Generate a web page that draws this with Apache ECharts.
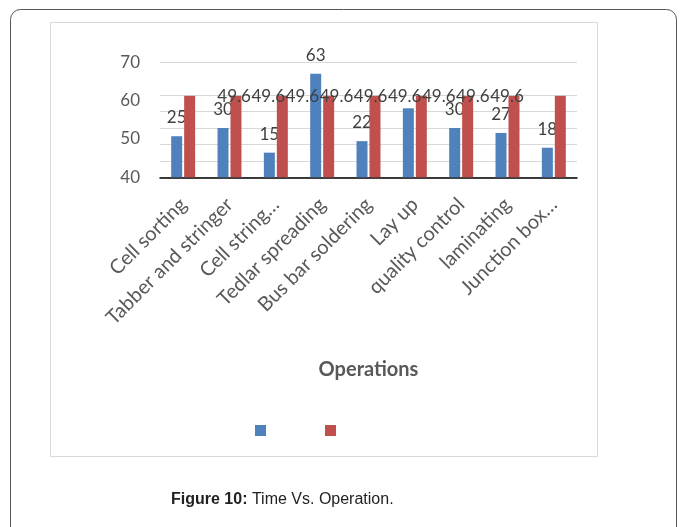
<!DOCTYPE html>
<html>
<head>
<meta charset="utf-8">
<script src="https://cdn.jsdelivr.net/npm/echarts@6/dist/echarts.min.js"></script>
<style>
  html, body { margin: 0; padding: 0; background: #fff; }
  #chart { width: 682px; height: 527px; }
</style>
</head>
<body>
<div id="chart"></div>
<script>
// Operations on the module line
const categories = [
  'Cell sorting', 'Tabber and stringer', 'Cell string\u2026', 'Tedlar spreading',
  'Bus bar soldering', 'Lay up', 'quality control', 'laminating', 'Junction box\u2026'
];
// Measured time per operation
const timeValues = [25, 30, 15, 63, 22, 42, 30, 27, 18];
// Reference time (same for every operation)
const refValues = [49.6, 49.6, 49.6, 49.6, 49.6, 49.6, 49.6, 49.6, 49.6];
// Printed value-axis labels
const yTickLabels = ['40', '50', '60', '70'];

const FONT = 'Lato, "Open Sans", sans-serif';
const GREY = '#595959';
const LABEL = '#404040';

const yMax = 70;
const labelStep = yMax / (yTickLabels.length - 1);

// blue labels sit above their bars; the label of "Lay up" is hidden under the red row
const blueData = timeValues.map((v, i) => ({
  value: v,
  label: { show: i !== 5 }
}));

// red labels are packed edge to edge into one row across the plot
const redData = refValues.map((v, i) => ({
  value: v,
  label: { offset: [44.5 - 12.23 * i, 9] }
}));

const chart = echarts.init(document.getElementById('chart'), null, { renderer: 'canvas' });

chart.setOption({
  animation: false,
  backgroundColor: '#fff',
  textStyle: { fontFamily: FONT },
  title: {
    text: '{b|Figure 10:} Time Vs. Operation.',
    left: 166,
    top: 487,
    textStyle: {
      fontFamily: '"Liberation Sans", Arial, sans-serif',
      fontSize: 16,
      fontWeight: 'normal',
      color: '#222',
      rich: {
        b: { fontFamily: '"Liberation Sans", Arial, sans-serif', fontSize: 16, fontWeight: 'bold', color: '#222' }
      }
    }
  },
  graphic: [
    {
      type: 'rect', z: -10, silent: true,
      shape: { x: 10.5, y: 9.5, width: 666, height: 560, r: 10 },
      style: { fill: 'none', stroke: '#555', lineWidth: 1 }
    },
    {
      type: 'rect', z: -10, silent: true,
      shape: { x: 50.5, y: 22.5, width: 547, height: 434 },
      style: { fill: 'none', stroke: '#d9d9d9', lineWidth: 1 }
    }
  ],
  legend: {
    left: 250,
    top: 420,
    icon: 'rect',
    itemWidth: 11,
    itemHeight: 11,
    itemGap: 59,
    formatter: () => '',
    data: ['Series1', 'Series2']
  },
  grid: { left: 160, right: 105, top: 62.3, bottom: 527 - 177.3 },
  xAxis: {
    type: 'category',
    data: categories,
    name: 'Operations',
    nameLocation: 'middle',
    nameGap: 182,
    nameTextStyle: { fontFamily: FONT, fontSize: 20, fontWeight: 'bold', color: GREY },
    axisLine: { lineStyle: { color: '#000', width: 1.5 } },
    axisTick: { show: false },
    axisLabel: {
      interval: 0,
      rotate: 45,
      margin: 24,
      fontSize: 20,
      color: GREY,
      fontFamily: FONT
    }
  },
  yAxis: [
    {
      type: 'value',
      min: 0,
      max: yMax,
      interval: 10,
      axisLine: { show: false },
      axisTick: { show: false },
      axisLabel: { show: false },
      splitLine: {
        lineStyle: {
          color: ['#d9d9d9', '#d9d9d9', '#d9d9d9', '#d9d9d9', '#d9d9d9', '#d9d9d9', 'rgba(0,0,0,0)', '#d9d9d9'],
          width: 1.2
        }
      }
    },
    {
      type: 'value',
      position: 'left',
      min: 0,
      max: yMax,
      interval: labelStep,
      axisLine: { show: false },
      axisTick: { show: false },
      splitLine: { show: false },
      axisLabel: {
        margin: 20,
        fontSize: 17,
        color: GREY,
        fontFamily: FONT,
        padding: [0, 0, 6, 0],
        formatter: (v) => yTickLabels[Math.round(v / labelStep)]
      }
    }
  ],
  series: [
    {
      name: 'Series1',
      type: 'bar',
      data: blueData,
      barWidth: 11,
      barGap: '18%',
      itemStyle: { color: '#4f81bd' },
      label: {
        position: 'top',
        distance: 10,
        fontSize: 17,
        color: LABEL,
        fontFamily: FONT
      },
      z: 2
    },
    {
      name: 'Series2',
      type: 'bar',
      data: redData,
      barWidth: 11,
      itemStyle: { color: '#c0504d' },
      label: {
        show: true,
        position: 'top',
        distance: 0,
        fontSize: 17,
        color: LABEL,
        fontFamily: FONT
      },
      z: 3
    }
  ]
});
</script>
</body>
</html>
